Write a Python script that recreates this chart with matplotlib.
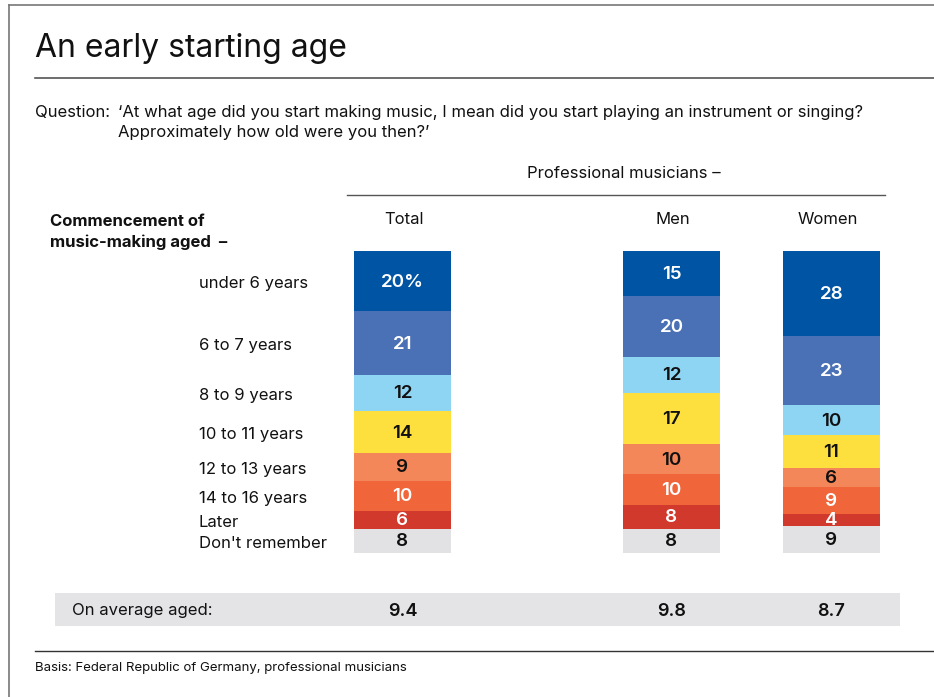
import matplotlib.pyplot as plt
import numpy as np

plt.rcParams['font.family'] = ['Inter', 'DejaVu Sans']

# data
categories = ['under 6 years', '6 to 7 years', '8 to 9 years', '10 to 11 years',
              '12 to 13 years', '14 to 16 years', 'Later', "Don't remember"]
groups = ['Total', 'Men', 'Women']
total = [20, 21, 12, 14, 9, 10, 6, 8]
men = [15, 20, 12, 17, 10, 10, 8, 8]
women = [28, 23, 10, 11, 6, 9, 4, 9]
averages = ['9.4', '9.8', '8.7']

colors = ['#0054a4', '#4a70b5', '#8ed5f4', '#fde03e', '#f48759', '#f1653a', '#d0392c', '#e2e2e4']
txt_colors = ['white', 'white', '#111', '#111', '#111', 'white', 'white', '#111']

W, H = 934, 697
fig = plt.figure(figsize=(W / 100, H / 100), dpi=100)

# background axes in pixel units
bg = fig.add_axes([0, 0, 1, 1])
bg.set_xlim(0, W)
bg.set_ylim(H, 0)
bg.axis('off')

# frame lines
bg.plot([9, W], [5, 5], color='#777', lw=1.2)
bg.plot([9, 9], [5, H], color='#777', lw=1.2)
bg.plot([35, W], [78, 78], color='#555', lw=1.2)
bg.plot([347, 885], [195, 195], color='#555', lw=1.0)
bg.plot([35, W], [651, 651], color='#333', lw=1.0)

bg.text(35, 49, 'An early starting age', fontsize=23, va='center', color='#111')
bg.text(35, 112, 'Question:', fontsize=12, va='center', color='#111')
bg.text(118, 112, '\u2018At what age did you start making music, I mean did you start playing an instrument or singing?',
        fontsize=12, va='center', color='#111')
bg.text(118, 133, 'Approximately how old were you then?\u2019', fontsize=12, va='center', color='#111')
bg.text(624, 174, 'Professional musicians \u2013', fontsize=12, va='center', ha='center', color='#111')
bg.text(50, 222, 'Commencement of', fontsize=12, va='center', fontweight='bold', color='#111')
bg.text(50, 242, 'music-making aged  \u2013', fontsize=12, va='center', fontweight='bold', color='#111')

xpos = [402.5, 671.5, 831.5]
hdr_x = [404, 673, 828]
for x, g in zip(hdr_x, groups):
    bg.text(x, 219, g, fontsize=12, ha='center', va='center', color='#111')

# average band
bg.add_patch(plt.Rectangle((55, 593), 845, 33, color='#e4e4e6', lw=0))
bg.text(72, 611, 'On average aged:', fontsize=12, va='center', color='#111')
for x, a in zip(xpos, averages):
    bg.text(x, 611, a, fontsize=13, ha='center', va='center', color='#111', fontweight='semibold')

bg.text(35, 668, 'Basis: Federal Republic of Germany, professional musicians', fontsize=9.5,
        va='center', color='#111')

# stacked bars
ax = fig.add_axes([0, (H - 553) / H, 1, 302 / H])
ax.set_xlim(0, W)
ax.set_ylim(100, 0)
ax.axis('off')

for x, vals in zip(xpos, [total, men, women]):
    bottoms = np.concatenate([[0], np.cumsum(vals)[:-1]])
    ax.bar([x] * len(vals), vals, bottom=bottoms, width=97, color=colors, align='center', lw=0)
    for v, b, tc, i in zip(vals, bottoms, txt_colors, range(len(vals))):
        lab = f'{v}%' if (x == xpos[0] and i == 0) else str(v)
        ax.text(x, b + v / 2 + 0.3, lab, ha='center', va='center', fontsize=13.5,
                color=tc, fontweight='semibold')

tb = np.concatenate([[0], np.cumsum(total)[:-1]])
for c, b, v in zip(categories, tb, total):
    ax.text(199, b + v / 2 + 0.8, c, fontsize=12, va='center', ha='left', color='#111')

fig.savefig('out.png', dpi=100)
